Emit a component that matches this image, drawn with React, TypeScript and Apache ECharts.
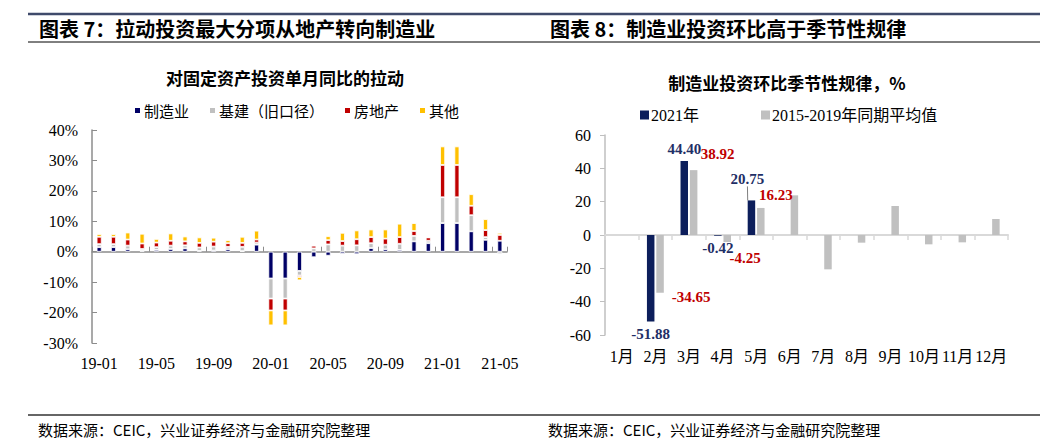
import React, { useEffect, useRef } from "react";
import * as echarts from "echarts";

// ---------- Left chart data (contribution to FAI single-month YoY, %) ----------
const months = [
  "19-01", "19-02", "19-03", "19-04", "19-05", "19-06", "19-07", "19-08", "19-09", "19-10",
  "19-11", "19-12", "20-01", "20-02", "20-03", "20-04", "20-05", "20-06", "20-07", "20-08",
  "20-09", "20-10", "20-11", "20-12", "21-01", "21-02", "21-03", "21-04", "21-05",
];
const manufacturing = [
  1.5, 1.5, 0.8, 0.3, 0.6, 0.9, 1.1, 0.3, 0.4, 0.8, 0.2, 2.3, -8.8, -8.8, -6.3, -1.8, -1.3,
  -0.7, -0.8, 1.2, 0.8, 0.6, 3.4, 2.8, 9.4, 9.4, 6.7, 3.9, 3.6,
];
const infrastructure = [
  1.0, 1.0, 1.2, 0.6, 0.9, 1.1, 1.0, 1.1, 1.3, 0.8, 1.4, 0.7, -6.6, -6.6, -1.5, 1.1, 2.4, 2.0,
  2.1, 1.6, 1.5, 2.0, 1.8, 0.8, 8.5, 8.5, 5.3, 0.9, -0.8,
];
const realEstate = [
  2.4, 2.4, 2.0, 1.8, 1.5, 1.6, 1.3, 1.5, 1.6, 1.2, 1.3, 1.0, -3.9, -3.9, -0.5, 0.9, 1.4, 1.5,
  2.0, 2.0, 2.0, 2.2, 1.6, 1.1, 10.6, 10.6, 3.1, 2.3, 1.9,
];
const others = [
  0.9, 0.9, 2.3, 3.2, 1.2, 2.4, 1.6, 1.8, 1.3, 1.0, 2.0, 2.9, -4.9, -4.9, -1.1, 0, 1.3, 2.7,
  2.9, 2.5, 3.0, 4.4, 2.6, 0.1, 6.1, 6.1, 3.8, 3.6, 0.7,
];
const leftSeriesNames = ["制造业", "基建（旧口径）", "房地产", "其他"];

// ---------- Right chart data (manufacturing investment MoM, %) ----------
const monthsCN = ["1月", "2月", "3月", "4月", "5月", "6月", "7月", "8月", "9月", "10月", "11月", "12月"];
const mom2021: (number | null)[] = [null, -51.88, 44.4, -0.42, 20.75, null, null, null, null, null, null, null];
const momAvg: (number | null)[] = [null, -34.65, 38.92, -4.25, 16.23, 23.8, -20.6, -4.6, 17.4, -5.6, -4.4, 9.6];
const rightSeriesNames = ["2021年", "2015-2019年同期平均值"];
const avgLabelled = [1, 2, 3, 4];

const SERIF = "'Liberation Serif', 'Noto Sans CJK SC'";
const CJK = "'Noto Sans CJK SC', 'Liberation Serif'";

const darkPlacement: Record<number, any> = {
  1: { position: "bottom", offset: [0, 0] },
  2: { position: "top", offset: [0, 0] },
  3: { position: "bottom", offset: [0, 4] },
  4: { position: "top", offset: [0, 0] },
};
// label moved away from its bar, joined by a guide line
const darkMoved: Record<number, { dx: number; dy: number }> = { 4: { dx: -4, dy: -9 } };
const grayPlacement: Record<number, any> = {
  1: { position: "bottom", offset: [31, -8] },
  2: { position: "top", offset: [24, -4] },
  3: { position: "bottom", offset: [18, 3] },
  4: { position: "top", offset: [15, 0] },
};

export default function App() {
  const ref = useRef<HTMLDivElement>(null);
  useEffect(() => {
    if (!ref.current) return;
    const chart = echarts.init(ref.current, undefined, { renderer: "svg" });
    const fmt2 = (p: any) => Number(p.value).toFixed(2);

    const leftColors = ["#000066", "#C0C0C0", "#C00000", "#FFC000"];
    const leftData = [manufacturing, infrastructure, realEstate, others];

    const leftSeries = leftData.map((d, i) => ({
      name: leftSeriesNames[i],
      type: "bar",
      stack: "contrib",
      xAxisIndex: 0,
      yAxisIndex: 0,
      barWidth: 5,
      data: d,
      itemStyle: { color: leftColors[i], borderColor: "#ffffff", borderWidth: 0.8 },
    }));

    const darkItems = mom2021.map((v, i) =>
      v === null
        ? "-"
        : {
            value: v,
            label: {
              show: true,
              position: darkPlacement[i]?.position ?? "top",
              offset: darkPlacement[i]?.offset ?? [0, 0],
            },
            labelLine: { show: !!darkMoved[i] },
          }
    );
    const grayItems = momAvg.map((v, i) =>
      v === null
        ? "-"
        : {
            value: v,
            label: {
              show: avgLabelled.includes(i),
              position: grayPlacement[i]?.position ?? "top",
              offset: grayPlacement[i]?.offset ?? [0, 0],
            },
          }
    );

    const option: any = {
      animation: false,
      textStyle: { fontFamily: SERIF },
      grid: [
        { left: 92, top: 130, width: 415, height: 213 },
        { left: 605, top: 135, width: 403, height: 200 },
      ],
      legend: [
        {
          data: leftSeriesNames,
          left: 128,
          top: 98,
          icon: "rect",
          itemWidth: 7,
          itemHeight: 7,
          itemGap: 19,
          textStyle: { fontSize: 15, fontFamily: CJK, color: "#000", padding: [0, 0, 0, -2] },
        },
        {
          data: rightSeriesNames,
          left: 635,
          top: 102,
          icon: "rect",
          itemWidth: 9,
          itemHeight: 9,
          itemGap: 62,
          textStyle: { fontSize: 16, fontFamily: SERIF, color: "#000", padding: [0, 0, 0, -3] },
        },
      ],
      xAxis: [
        {
          gridIndex: 0,
          type: "category",
          data: months,
          axisLine: { onZero: true, lineStyle: { color: "#8c8c8c", width: 1.5 } },
          axisTick: { show: true, inside: true, interval: 3, length: 5, lineStyle: { color: "#8c8c8c" } },
          axisLabel: { show: false },
        },
        {
          gridIndex: 0,
          type: "category",
          data: months,
          position: "bottom",
          axisLine: { show: false, onZero: false },
          axisTick: { show: false },
          axisLabel: { interval: 3, margin: 12, fontSize: 16, color: "#000", fontFamily: SERIF },
        },
        {
          gridIndex: 1,
          type: "category",
          data: monthsCN,
          axisLine: { onZero: true, lineStyle: { color: "#d9d9d9", width: 2 } },
          axisTick: { show: true, interval: 0, length: 5, lineStyle: { color: "#d9d9d9", width: 1.5 } },
          axisLabel: { show: false },
        },
        {
          gridIndex: 1,
          type: "category",
          data: monthsCN,
          position: "bottom",
          axisLine: { show: false, onZero: false },
          axisTick: { show: false },
          axisLabel: { interval: 0, margin: 13, fontSize: 16, color: "#000", fontFamily: SERIF },
        },
      ],
      yAxis: [
        {
          gridIndex: 0,
          type: "value",
          min: -30,
          max: 40,
          interval: 10,
          axisLine: { show: true, lineStyle: { color: "#8c8c8c", width: 1.5 } },
          axisTick: { show: true, inside: true, length: 5, lineStyle: { color: "#8c8c8c" } },
          splitLine: { show: false },
          axisLabel: { formatter: "{value}%", fontSize: 16, margin: 14, color: "#000", fontFamily: SERIF },
        },
        {
          gridIndex: 1,
          type: "value",
          min: -60,
          max: 60,
          interval: 20,
          axisLine: { show: true, lineStyle: { color: "#bfbfbf", width: 1.5 } },
          axisTick: { show: true, length: 5, lineStyle: { color: "#bfbfbf" } },
          splitLine: { show: false },
          axisLabel: { fontSize: 16, margin: 14, color: "#000", fontFamily: SERIF },
        },
      ],
      series: [
        ...leftSeries,
        {
          name: rightSeriesNames[0],
          type: "bar",
          xAxisIndex: 2,
          yAxisIndex: 1,
          barWidth: 7.5,
          barGap: "25%",
          data: darkItems,
          itemStyle: { color: "#0C1E5B" },
          label: {
            show: true,
            formatter: fmt2,
            color: "#1F2F66",
            fontWeight: "bold",
            fontSize: 15,
            fontFamily: SERIF,
            distance: 5,
          },
          labelLine: { show: false, lineStyle: { color: "#7f7f7f", width: 1 } },
          labelLayout: (p: any) => darkMoved[p.dataIndex] ?? {},
        },
        {
          name: rightSeriesNames[1],
          type: "bar",
          xAxisIndex: 2,
          yAxisIndex: 1,
          barWidth: 7.5,
          barGap: "25%",
          data: grayItems,
          itemStyle: { color: "#C0C0C0" },
          label: {
            formatter: fmt2,
            color: "#C00000",
            fontWeight: "bold",
            fontSize: 15,
            fontFamily: SERIF,
            distance: 5,
          },
        },
      ],
      graphic: [
        { type: "line", shape: { x1: 28, y1: 14, x2: 1040, y2: 14 }, style: { stroke: "#3f4a6b", lineWidth: 2.5 } },
        { type: "line", shape: { x1: 28, y1: 42, x2: 1040, y2: 42 }, style: { stroke: "#000", lineWidth: 1 } },
        {
          type: "text",
          x: 39,
          y: 28,
          style: {
            text: "图表 7：拉动投资最大分项从地产转向制造业",
            font: "bold 20px 'Noto Sans CJK SC'",
            fill: "#000",
            verticalAlign: "middle",
          },
        },
        {
          type: "text",
          x: 550,
          y: 28,
          style: {
            text: "图表 8：制造业投资环比高于季节性规律",
            font: "bold 20px 'Noto Sans CJK SC'",
            fill: "#000",
            verticalAlign: "middle",
          },
        },
        {
          type: "text",
          x: 285,
          y: 77,
          style: {
            text: "对固定资产投资单月同比的拉动",
            font: "bold 17px 'Noto Sans CJK SC'",
            fill: "#000",
            align: "center",
            verticalAlign: "middle",
          },
        },
        {
          type: "text",
          x: 787,
          y: 82,
          style: {
            text: "制造业投资环比季节性规律，%",
            font: "bold 17px 'Noto Sans CJK SC'",
            fill: "#000",
            align: "center",
            verticalAlign: "middle",
          },
        },
        { type: "line", shape: { x1: 28, y1: 415, x2: 1040, y2: 415 }, style: { stroke: "#333", lineWidth: 1.5 } },
        {
          type: "text",
          x: 38,
          y: 429,
          style: {
            text: "数据来源：CEIC，兴业证券经济与金融研究院整理",
            font: "15px 'Noto Sans CJK SC'",
            fill: "#000",
            verticalAlign: "middle",
          },
        },
        {
          type: "text",
          x: 548,
          y: 429,
          style: {
            text: "数据来源：CEIC，兴业证券经济与金融研究院整理",
            font: "15px 'Noto Sans CJK SC'",
            fill: "#000",
            verticalAlign: "middle",
          },
        },
      ],
    };
    chart.setOption(option);
    return () => chart.dispose();
  }, []);

  return (
    <div
      ref={ref}
      style={{ position: "absolute", left: 0, top: 0, width: 1063, height: 447, background: "#fff" }}
    />
  );
}
